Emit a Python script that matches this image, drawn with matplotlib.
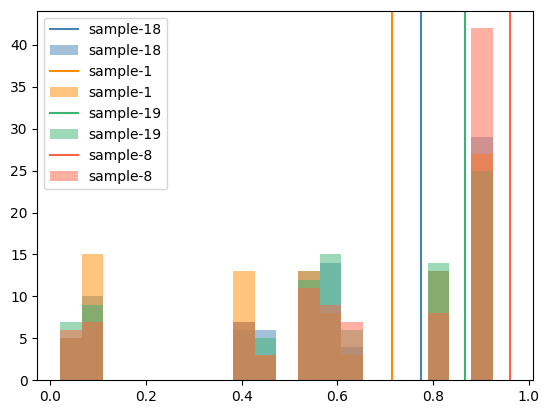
import numpy as np
import matplotlib
matplotlib.use("Agg")
import matplotlib.pyplot as plt

# shared bin edges (20 bins) and the counts
bin_lo, bin_hi = 0.02, 0.925
names = ["sample-18", "sample-1", "sample-19", "sample-8"]
colors = ["steelblue", "darkorange", "mediumseagreen", "tomato"]
markers = [0.776, 0.7135, 0.868, 0.962]

counts_18 = [5, 10, 0, 0, 0, 0, 0, 0, 6, 6, 0, 13, 14, 4, 0, 0, 0, 13, 0, 29]
counts_1 = [5, 15, 0, 0, 0, 0, 0, 0, 13, 3, 0, 13, 8, 3, 0, 0, 0, 13, 0, 27]
counts_19 = [7, 9, 0, 0, 0, 0, 0, 0, 7, 5, 0, 12, 15, 6, 0, 0, 0, 14, 0, 25]
counts_8 = [6, 7, 0, 0, 0, 0, 0, 0, 7, 3, 0, 11, 9, 7, 0, 0, 0, 8, 0, 42]
all_counts = [counts_18, counts_1, counts_19, counts_8]

edges = np.linspace(bin_lo, bin_hi, len(counts_18) + 1)
centers = 0.5 * (edges[:-1] + edges[1:])

fig = plt.figure(figsize=(5.49, 4.13), dpi=100)
ax = fig.add_axes([0.0681, 0.0794, 0.9027, 0.8949])

for name, c, m, cnt in zip(names, colors, markers, all_counts):
    ax.axvline(m, color=c, label=name)
    ax.hist(centers, bins=edges, weights=cnt, color=c, alpha=0.5, label=name)

ax.legend(loc="upper left")

fig.savefig("out.png", dpi=100)
